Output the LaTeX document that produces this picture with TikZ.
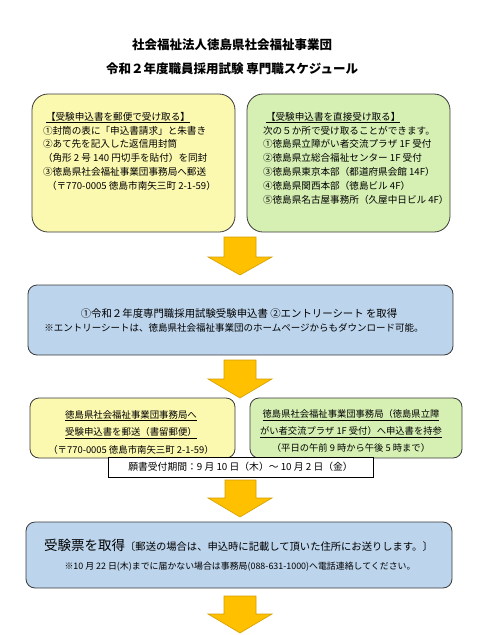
\documentclass[tikz,border=0pt]{standalone}
\usepackage{fontspec}
\setmainfont{Noto Sans CJK JP}
\definecolor{yel}{HTML}{FBF8B0}
\definecolor{grn}{HTML}{D6F0B4}
\definecolor{blu}{HTML}{BCD4EC}
\definecolor{edge}{HTML}{3A3A3A}
\definecolor{arr}{HTML}{FFC000}
\definecolor{arredge}{HTML}{D49E00}
\begin{document}
\begin{tikzpicture}[x=1pt,y=-1pt,
  box/.style={draw=edge, line width=0.8pt, inner sep=0pt, outer sep=0pt},
  bigbox/.style={box, rounded corners=16pt},
  smallbox/.style={box, rounded corners=9pt},
  txt/.style={inner sep=0pt, outer sep=0pt, font=\fontsize{9.6}{13.9}\selectfont},
  downarrow/.style={fill=arr, draw=arredge, line width=0.6pt, line join=miter},
]
\useasboundingbox (0,0) rectangle (486,635);

% title
\node[inner sep=0pt, font=\fontsize{12.5}{15}\selectfont\bfseries] (title1) at (232,45) {社会福祉法人徳島県社会福祉事業団};
\node[inner sep=0pt, font=\fontsize{12.5}{15}\selectfont\bfseries] (title2) at (232,69) {令和２年度職員採用試験\ 専門職スケジュール};

% top boxes
\node[bigbox, fill=yel, minimum width=203pt, minimum height=138pt] (b1) at (133.5,163) {};
\node[bigbox, fill=grn, minimum width=203pt, minimum height=138pt] (b2) at (348.5,163) {};

\node[txt, anchor=north west, align=left] (t1) at (43,112) {%
\hspace{3pt}\underline{【受験申込書を郵便で受け取る】}\\
①封筒の表に「申込書請求」と朱書き\\
②あて先を記入した返信用封筒\\
（角形 2 号 140 円切手を貼付）を同封\\
③徳島県社会福祉事業団事務局へ郵送\\
\hspace{4pt}（〒770-0005 徳島市南矢三町 2-1-59）};

\node[txt, anchor=north west, align=left] (t2) at (263,112) {%
\hspace{3pt}\underline{【受験申込書を直接受け取る】}\\
次の５か所で受け取ることができます。\\
①徳島県立障がい者交流プラザ 1F 受付\\
②徳島県立総合福祉センター 1F 受付\\
③徳島県東京本部（都道府県会館 14F）\\
④徳島県関西本部（徳島ビル 4F）\\
⑤徳島県名古屋事務所（久屋中日ビル 4F）};

% arrow 1
\draw[downarrow] (224,237) -- (256,237) -- (256,257) -- (272,257) -- (240,275) -- (208,257) -- (224,257) -- cycle;

% box 3
\node[smallbox, fill=blu, minimum width=425pt, minimum height=70pt] (b3) at (240.5,320) {};
\node[txt, anchor=base, font=\fontsize{10.4}{13}\selectfont] (t3a) at (239,317) {①令和２年度専門職採用試験受験申込書 ②エントリーシート を取得};
\node[txt, anchor=base, font=\fontsize{9.5}{13}\selectfont] (t3b) at (234,331) {※エントリーシートは、徳島県社会福祉事業団のホームページからもダウンロード可能。};

% arrow 2
\draw[downarrow] (224,360) -- (256,360) -- (256,379) -- (272,379) -- (240,398) -- (208,379) -- (224,379) -- cycle;

% box 4 and 5
\node[smallbox, fill=yel, minimum width=205pt, minimum height=60pt] (b4) at (132.5,428) {};
\node[smallbox, fill=grn, minimum width=212pt, minimum height=60pt] (b5) at (356,428) {};

\node[txt, align=center, font=\fontsize{9.4}{17.5}\selectfont] (t4) at (131,432) {%
\underline{徳島県社会福祉事業団事務局へ}\\
\underline{受験申込書を郵送（書留郵便）}\\
（〒770-0005 徳島市南矢三町 2-1-59）};

\node[txt, align=center, font=\fontsize{9.3}{17}\selectfont] (t5) at (351,431) {%
\underline{徳島県社会福祉事業団事務局（徳島県立障}\\
\underline{がい者交流プラザ 1F 受付）へ申込書を持参}\\
（平日の午前 9 時から午後 5 時まで）};

% period box
\node[draw=black, fill=white, line width=0.8pt, minimum width=265pt, minimum height=20pt, inner sep=0pt,
      font=\fontsize{9.8}{12}\selectfont] (period) at (240.5,467) {願書受付期間：9 月 10 日（木）～ 10 月 2 日（金）};

% arrow 3
\draw[downarrow] (225,480) -- (256,480) -- (256,498) -- (272,498) -- (240,517) -- (208,498) -- (225,498) -- cycle;

% box 6
\node[smallbox, fill=blu, minimum width=426pt, minimum height=66pt] (b6) at (239,555) {};
\node[txt, anchor=base] (t6a) at (238.5,550) {{\fontsize{13.5}{15}\selectfont 受験票を取得}{\fontsize{10.3}{12}\selectfont 〔郵送の場合は、申込時に記載して頂いた住所にお送りします。〕}};
\node[txt, anchor=base, font=\fontsize{8.9}{11}\selectfont] (t6b) at (240,569) {※10 月 22 日(木)までに届かない場合は事務局(088-631-1000)へ電話連絡してください。};

% arrow 4
\draw[downarrow] (224,596) -- (256,596) -- (256,614) -- (272,614) -- (240,633) -- (208,614) -- (224,614) -- cycle;
\end{tikzpicture}
\end{document}
